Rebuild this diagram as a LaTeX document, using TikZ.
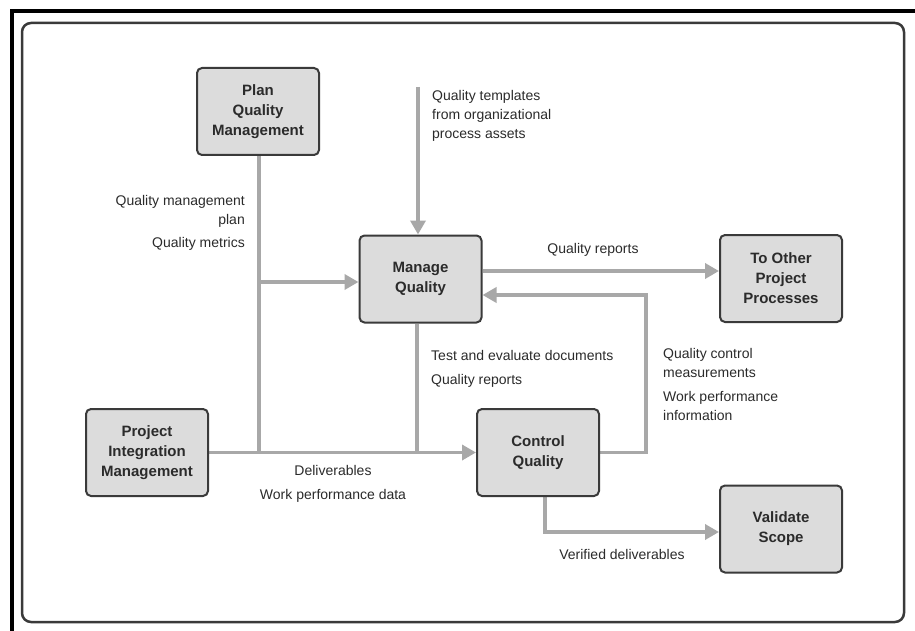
\documentclass[tikz,border=0pt]{standalone}
\usepackage{fontspec}
\setmainfont{Liberation Sans}
\usetikzlibrary{arrows.meta}
\pgfdeclarelayer{background}
\pgfsetlayers{background,main}
\definecolor{boxfill}{HTML}{DCDCDC}
\definecolor{boxline}{HTML}{3A3A3A}
\definecolor{flow}{HTML}{A8A8A8}
\definecolor{ink}{HTML}{2B2B2B}
\begin{document}
\begin{tikzpicture}[x=1pt,y=-1pt,
  process/.style={draw=boxline, line width=2pt, fill=boxfill, rounded corners=5pt,
    minimum width=122pt, minimum height=87pt, align=center, inner sep=0pt,
    font=\fontsize{15}{20}\selectfont\bfseries, text=ink},
  flowline/.style={draw=flow, line width=3.5pt},
  arr/.style={flowline, -{Triangle[length=14pt,width=15pt]}},
  lbl/.style={font=\fontsize{14}{19}\selectfont, text=ink, inner sep=0pt}
]
\useasboundingbox (0,0) rectangle (915,631);

% process boxes
\node[process] (pqm)   at (258,111.5) {Plan\\Quality\\Management};
\node[process] (mq)    at (420.5,279) {Manage\\Quality};
\node[process] (other) at (781,278.5) {To Other\\Project\\Processes};
\node[process] (pim)   at (147,452.5) {Project\\Integration\\Management};
\node[process] (cq)    at (538,452.5) {Control\\Quality};
\node[process] (vs)    at (781,529) {Validate\\Scope};

% routing points
\coordinate (tpl)      at (418,87);
\coordinate (qmJoin)   at (259,282);
\coordinate (mqDrop)   at (417,452.5);
\coordinate (mqOut)    at (0,271);
\coordinate (fbCorner) at (646,295);
\coordinate (vdCorner) at (545,532);

\begin{pgfonlayer}{background}
% page, heavy black edges along top and left, rounded panel
\fill[white] (0,0) rectangle (915,631);
\fill[black] (10,9) rectangle (915,13);
\fill[black] (10,9) rectangle (14,631);
\draw[boxline, line width=2.5pt, rounded corners=9pt] (22,23) rectangle (904,622);
% flows
\draw[flowline] (pqm.south -| qmJoin) -- (qmJoin |- pim.east);
\draw[arr] (qmJoin) -- (qmJoin -| mq.west);
\draw[arr] (pim.east) -- (cq.west);
\draw[flowline] (mq.south -| mqDrop) -- (mqDrop);
\draw[arr] (tpl) -- (tpl |- mq.north);
\draw[arr] (mq.east |- mqOut) -- (other.west |- mqOut);
\draw[arr] (cq.east) -| (fbCorner) -- (fbCorner -| mq.east);
\draw[arr] (cq.south -| vdCorner) |- (vs.west |- vdCorner);
\end{pgfonlayer}

% flow labels
\node[lbl, align=left, anchor=north west] (tplText) at (432,90)
  {Quality templates\\from organizational\\process assets};
\node[lbl, align=right, anchor=north east] (qmpText) at (245,195)
  {Quality management\\plan\\[4pt]Quality metrics};
\node[lbl] (qrText) at (593,250) {Quality reports};
\node[lbl, align=left, anchor=north west] (tedText) at (431,350)
  {Test and evaluate documents\\[5pt]Quality reports};
\node[lbl, align=left, anchor=north west] (qcmText) at (663,348)
  {Quality control\\measurements\\[5pt]Work performance\\information};
\node[lbl, align=center, anchor=north] (delText) at (333,465)
  {Deliverables\\[5pt]Work performance data};
\node[lbl] (vdText) at (622,554) {Verified deliverables};
\end{tikzpicture}
\end{document}
